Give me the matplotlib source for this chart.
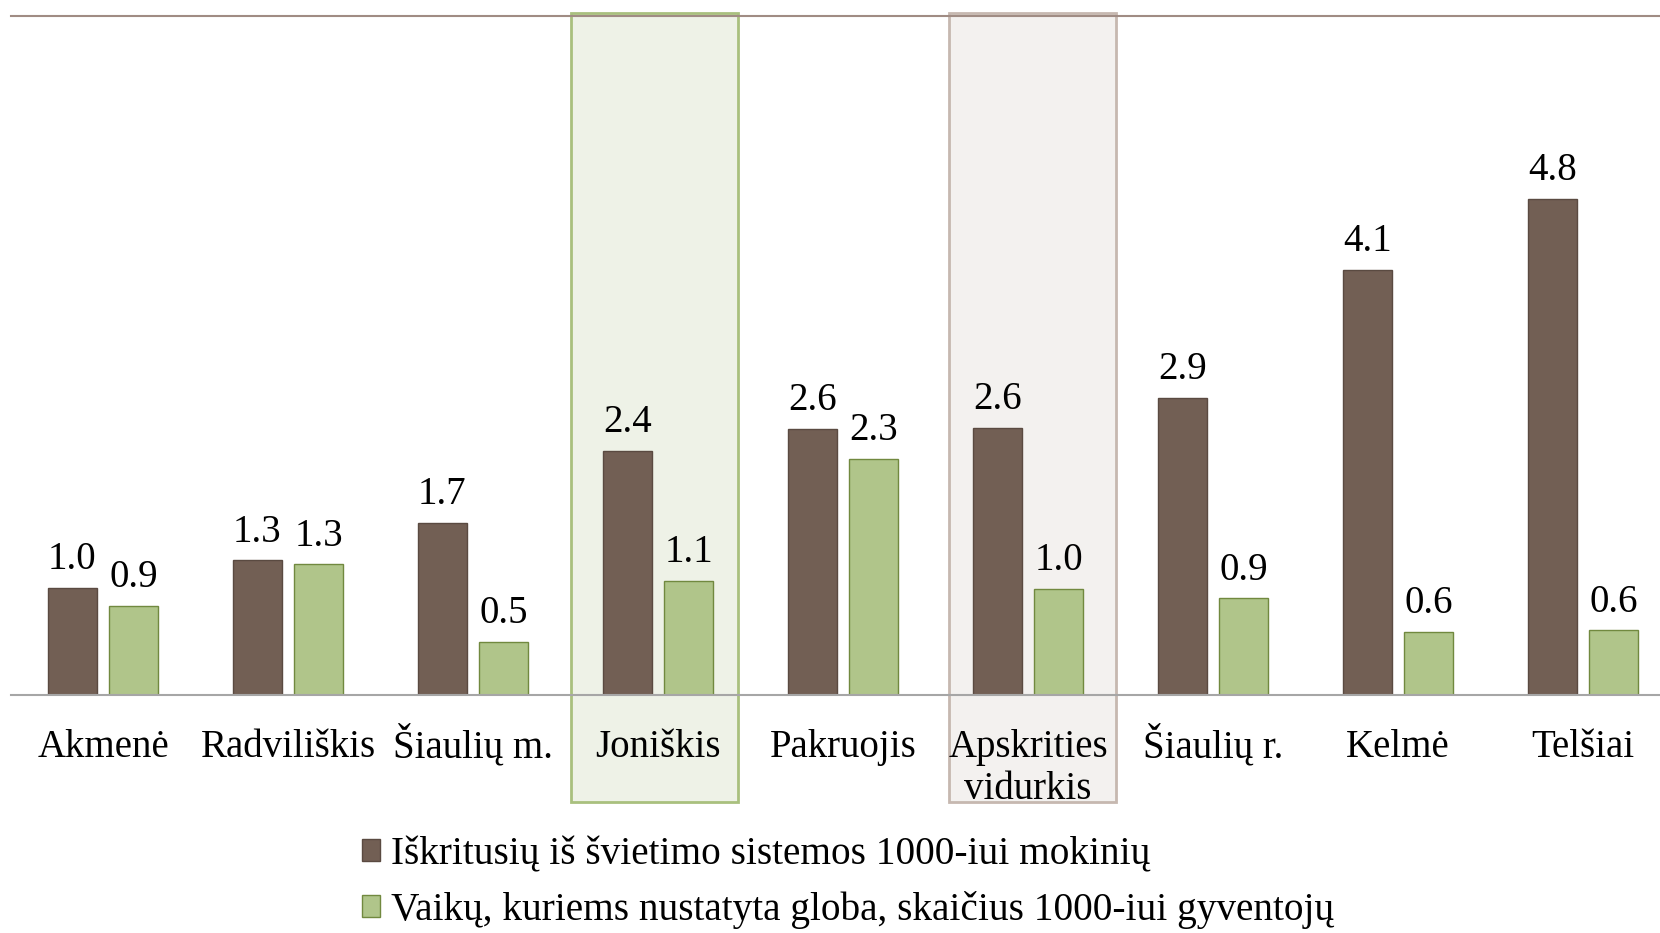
import matplotlib
matplotlib.use('Agg')
import matplotlib.pyplot as plt
from matplotlib.patches import Rectangle, Patch

# data
categories = ['Akmenė', 'Radviliškis', 'Šiaulių m.', 'Joniškis', 'Pakruojis',
              'Apskrities\nvidurkis', 'Šiaulių r.', 'Kelmė', 'Telšiai']
dropouts = [1.03, 1.30, 1.66, 2.36, 2.57, 2.58, 2.87, 4.11, 4.80]
custody = [0.86, 1.26, 0.51, 1.10, 2.28, 1.02, 0.93, 0.61, 0.62]
series_names = ['Iškritusių iš švietimo sistemos 1000-iui mokinių',
                'Vaikų, kuriems nustatyta globa, skaičius 1000-iui gyventojų']
highlighted = ['Joniškis', 'Apskrities\nvidurkis']

plt.rcParams['font.family'] = ['Liberation Serif', 'DejaVu Serif']
plt.rcParams['font.size'] = 28

dark = '#725f54'
dark_edge = '#5a4a41'
green = '#b0c58a'
green_edge = '#71893f'
# fill, edge, shift of box from the group centre
hl_styles = [('#eef2e7', '#a9c07e', -0.47), ('#f3f1ef', '#c6b8b0', -0.425)]

fig = plt.figure(figsize=(16.6, 9.33), dpi=100)
ax = fig.add_axes([0.0064, 0.2556, 0.9936, 0.7272])

w = 0.265
off = 0.166
x = list(range(len(categories)))

# highlight boxes behind the bars
for name, (fc, ec, dx) in zip(highlighted, hl_styles):
    i = categories.index(name)
    ax.add_patch(Rectangle((i + dx, -1.045), 0.9, 7.645, facecolor=fc,
                           edgecolor=ec, linewidth=2, clip_on=False, zorder=0.5))

b1 = ax.bar([i - off for i in x], dropouts, w, color=dark, edgecolor=dark_edge,
            linewidth=1, zorder=2)
b2 = ax.bar([i + off for i in x], custody, w, color=green, edgecolor=green_edge,
            linewidth=1, zorder=2)
ax.bar_label(b1, fmt='%.1f', padding=7, fontsize=28)
ax.bar_label(b2, fmt='%.1f', padding=7, fontsize=28)

ax.set_xlim(-0.5, -0.5 + (1660 - 10.6) / 185)
ax.set_ylim(0, 6.57)
ax.set_xticks([])
ax.set_yticks([])

# category names, lines aligned on their baselines
for i, label in zip(x, categories):
    for k, line in enumerate(label.split('\n')):
        ax.annotate(line, xy=(i, 0), xycoords=('data', 'axes fraction'),
                    xytext=(0, -45 - 30.5 * k), textcoords='offset points',
                    ha='center', va='baseline', fontsize=28)

for s in ['left', 'right']:
    ax.spines[s].set_visible(False)
ax.spines['bottom'].set_color('#a6a6a6')
ax.spines['bottom'].set_linewidth(1.5)
ax.spines['top'].set_color('#a08c84')
ax.spines['top'].set_linewidth(1.5)

handles = [Patch(facecolor=dark, edgecolor=dark_edge),
           Patch(facecolor=green, edgecolor=green_edge)]
fig.legend(handles, series_names, loc='upper left', bbox_to_anchor=(0.218, 0.104),
           frameon=False, handlelength=0.46, handleheight=0.46, handletextpad=0.27,
           labelspacing=0.46, borderpad=0, borderaxespad=0, fontsize=28.3)

fig.savefig('out.png')
